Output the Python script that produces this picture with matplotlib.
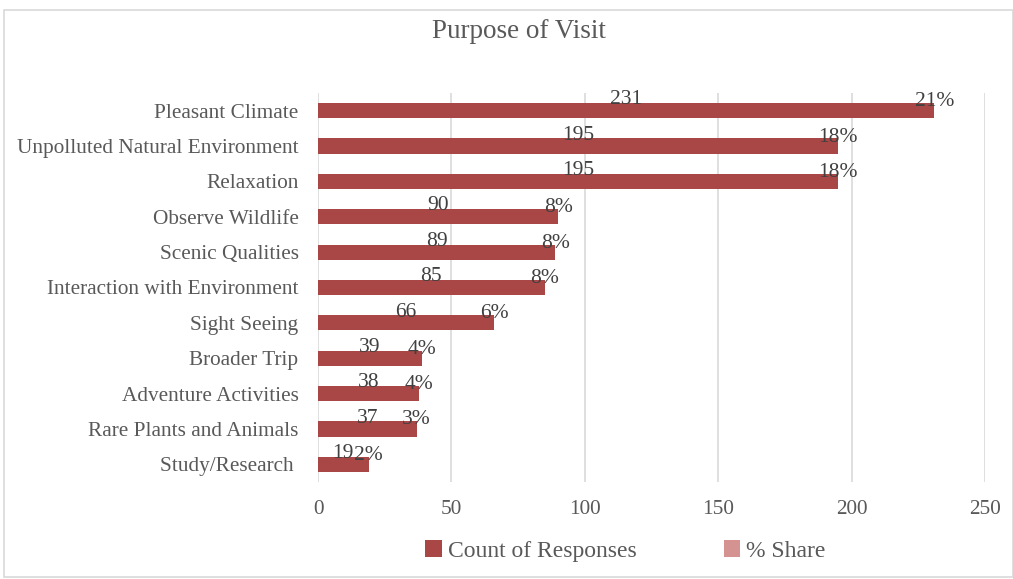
import matplotlib
matplotlib.use("Agg")
import matplotlib.pyplot as plt
from matplotlib.patches import Rectangle, Patch

categories = ["Pleasant Climate", "Unpolluted Natural Environment", "Relaxation",
              "Observe Wildlife", "Scenic Qualities", "Interaction with Environment",
              "Sight Seeing", "Broader Trip", "Adventure Activities",
              "Rare Plants and Animals", "Study/Research "]
counts = [231, 195, 195, 90, 89, 85, 66, 39, 38, 37, 19]
share_pct = [21, 18, 18, 8, 8, 8, 6, 4, 4, 3, 2]
x_ticks = [0, 50, 100, 150, 200, 250]

plt.rcParams['font.family'] = ['Liberation Serif', 'DejaVu Serif']
text_color = "#595959"
bar_color = "#A94746"
share_color = "#D49391"

fig = plt.figure(figsize=(10.13, 5.79), dpi=100)
fig.patches.append(Rectangle((4/1013, 2/579), 1 - 4/1013, 1 - 12/579, transform=fig.transFigure,
                             fill=False, edgecolor="#D9D9D9", linewidth=1.2))
ax = fig.add_axes([318/1013, 1 - 482/579, 667/1013, 389/579])

y = list(range(len(categories)))
bh = 0.43
ax.barh(y, counts, height=bh, color=bar_color, zorder=3)
ax.set_ylim(len(categories) - 0.5, -0.5)
ax.set_xlim(0, 250)
ax.set_xticks(x_ticks)
ax.set_xticklabels([str(t) for t in x_ticks])
ax.set_yticks(y)
ax.set_yticklabels(categories)
ax.tick_params(axis='both', length=0, labelsize=15.3, colors=text_color)
ax.tick_params(axis='x', pad=13)
ax.tick_params(axis='y', pad=14)
ax.grid(axis='x', color="#D9D9D9", linewidth=1.2, zorder=0)
for s in ax.spines.values():
    s.set_visible(False)

for i, (c, p) in enumerate(zip(counts, share_pct)):
    top = i - bh / 2
    ax.text(c / 2, top - 0.09, str(c), ha='center', va='center', fontsize=15.5,
            color="#404040", zorder=4)
    ax.text(c, top - 0.04, f"{p}%", ha='center', va='center', fontsize=15.5,
            color="#404040", zorder=4)

fig.text(519/1013, 1 - 32/579, "Purpose of Visit", ha='center', va='center', fontsize=19.5,
         color=text_color)

handles = [Patch(facecolor=bar_color, label="Count of Responses"),
           Patch(facecolor=share_color, label="% Share")]
fig.legend(handles=handles, loc='center', bbox_to_anchor=(0.6175, 1 - 551/579), ncol=2,
           frameon=False, fontsize=17, labelcolor=text_color, handlelength=0.7,
           handleheight=0.7, handletextpad=0.25, columnspacing=3.7)

fig.savefig("out.png", dpi=100)
